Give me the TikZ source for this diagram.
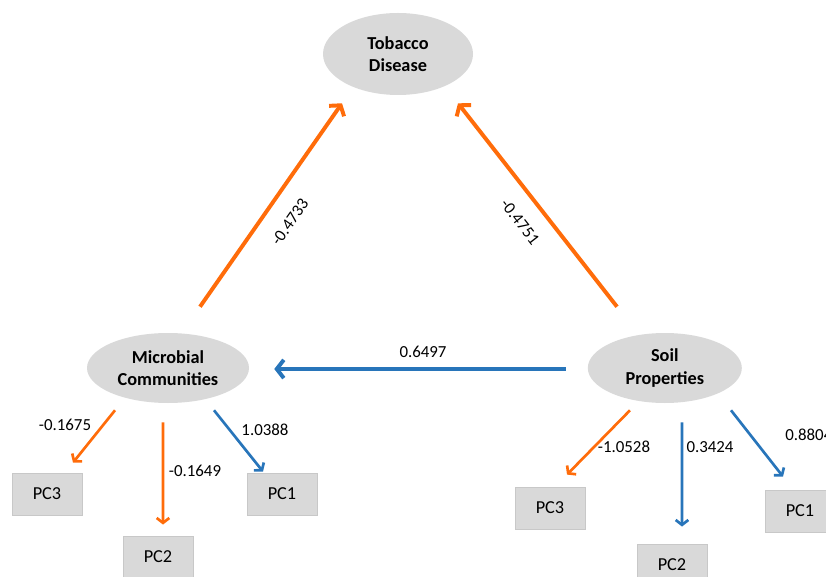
\documentclass[tikz,border=0pt]{standalone}
\usepackage{fontspec}
\setmainfont{Carlito}
\usepackage{tikz}
\usetikzlibrary{calc,positioning,arrows.meta,shapes}

\definecolor{pathorange}{RGB}{255,108,10}
\definecolor{pathblue}{RGB}{40,117,186}
\definecolor{nodegray}{RGB}{217,217,217}
\definecolor{boxline}{RGB}{200,200,200}

\tikzstyle{latent}   = [ellipse, fill=nodegray, align=center, inner sep=0pt, font=\fontsize{13}{16}\selectfont\bfseries]
\tikzstyle{pcbox}    = [rectangle, fill=nodegray, draw=boxline, line width=0.6pt, minimum width=1.75cm, minimum height=1.05cm, font=\fontsize{13}{16}\selectfont]
\tikzstyle{bigarrow} = [line width=2.8pt, -{Straight Barb[length=5pt,width=13pt]}]
\tikzstyle{smallarrow} = [line width=1.9pt, -{Straight Barb[length=3.5pt,width=9pt]}]
\tikzstyle{coef}     = [font=\fontsize{12}{14}\selectfont, inner sep=0pt]

\begin{document}
\begin{tikzpicture}[]
		\useasboundingbox (0,0) rectangle (20.65,14.4);

		% latent variables
		\node[latent, minimum width=3.75cm, minimum height=2.05cm] (td) at (9.95,13.05) {Tobacco\\Disease};
		\node[latent, minimum width=4.05cm, minimum height=1.75cm] (mc) at (4.2,5.2) {Microbial\\Communities};
		\node[latent, minimum width=3.85cm, minimum height=1.75cm] (sp) at (16.62,5.2) {Soil\\Properties};

		% principal components
		\node[pcbox] (mpc3) at (1.175,2.05) {PC3};
		\node[pcbox] (mpc2) at (3.95,0.475) {PC2};
		\node[pcbox] (mpc1) at (7.05,2.05) {PC1};
		\node[pcbox] (spc3) at (13.75,1.7) {PC3};
		\node[pcbox] (spc2) at (16.8,0.275) {PC2};
		\node[pcbox] (spc1) at (20.0,1.625) {PC1};

		% paths
		\draw[bigarrow, pathorange] ([shift={(0.8,0.65)}]mc.north) -- ([shift={(-1.4,-0.2)}]td.south);
		\draw[bigarrow, pathorange] ([shift={(-1.195,0.65)}]sp.north) -- ([shift={(1.5,-0.2)}]td.south);
		\draw[bigarrow, pathblue] ([shift={(-0.545,-0.025)}]sp.west) -- ([shift={(0.625,-0.025)}]mc.east);

		\draw[smallarrow, pathorange] ([shift={(-1.325,-0.175)}]mc.south) -- ([shift={(0.65,0.25)}]mpc3.north);
		\draw[smallarrow, pathorange] ([shift={(-0.125,-0.475)}]mc.south) -- ([shift={(0.125,0.275)}]mpc2.north);
		\draw[smallarrow, pathblue] ([shift={(1.15,-0.175)}]mc.south) -- ([shift={(-0.475,0.025)}]mpc1.north);

		\draw[smallarrow, pathorange] ([shift={(-0.87,-0.175)}]sp.south) -- ([shift={(0.425,0.3)}]spc3.north);
		\draw[smallarrow, pathblue] ([shift={(0.43,-0.475)}]sp.south) -- ([shift={(0.25,0.425)}]spc2.north);
		\draw[smallarrow, pathblue] ([shift={(1.655,-0.175)}]sp.south) -- ([shift={(-0.425,0.325)}]spc1.north);

		% coefficients
		\node[coef, rotate=55] (c1) at (7.25,8.85) {-0.4733};
		\node[coef, rotate=-52] (c2) at (13.0,8.85) {-0.4751};
		\node[coef] (c3) at (10.575,5.6) {0.6497};
		\node[coef] (c4) at (1.625,3.775) {-0.1675};
		\node[coef] (c5) at (4.875,2.625) {-0.1649};
		\node[coef] (c6) at (6.625,3.65) {1.0388};
		\node[coef] (c7) at (15.6,3.225) {-1.0528};
		\node[coef] (c8) at (17.75,3.225) {0.3424};
		\node[coef, anchor=west] (c9) at (19.625,3.525) {0.8804};
	\end{tikzpicture}
\end{document}
